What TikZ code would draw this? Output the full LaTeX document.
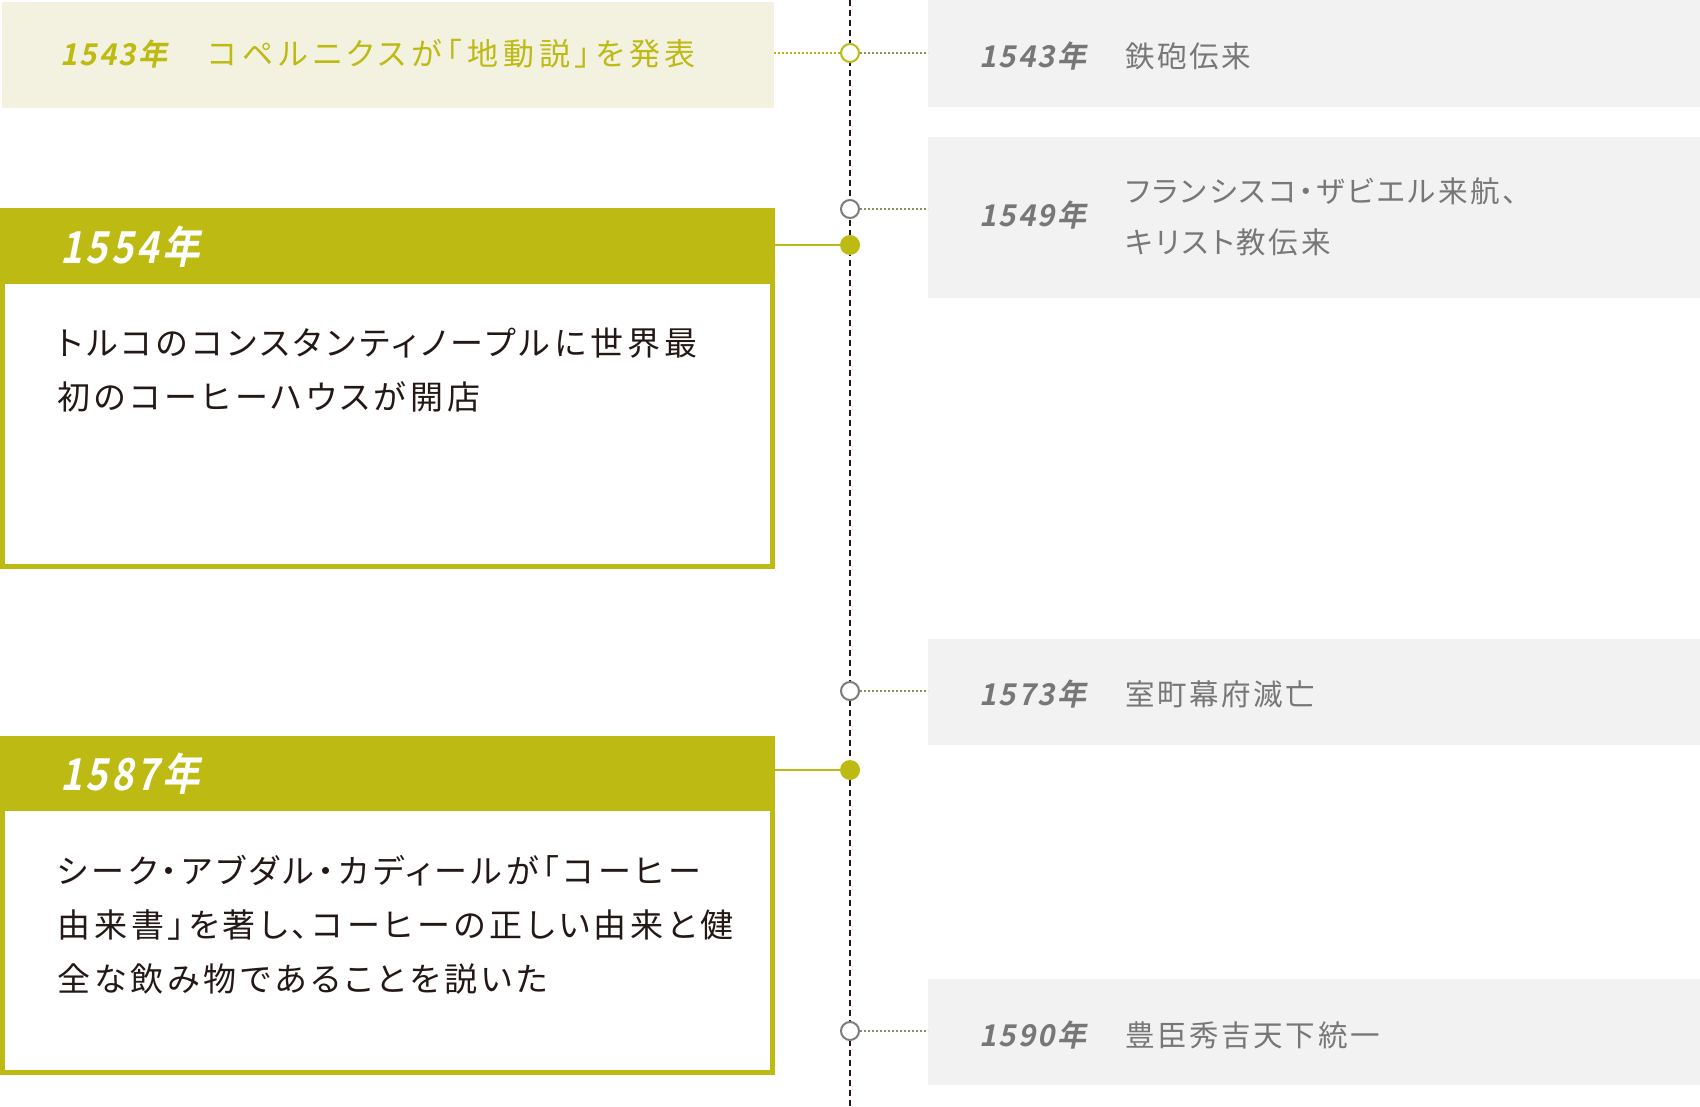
\documentclass[tikz,border=0pt]{standalone}
\usepackage{fontspec}
\setmainfont{Noto Sans CJK JP}
\newfontfamily\jpfont[RawFeature=+palt,LetterSpace=12]{Noto Sans CJK JP}
\newfontfamily\jpfontt[RawFeature=+palt,LetterSpace=16]{Noto Sans CJK JP}
\newfontfamily\jpfontb[RawFeature=+palt,LetterSpace=9]{Noto Sans CJK JP}
\newfontfamily\yrfont[FakeSlant=0.2,FakeStretch=0.97,LetterSpace=8]{Noto Sans CJK JP Bold}
\newfontfamily\yrfontb[FakeSlant=0.2,FakeStretch=0.85,LetterSpace=8]{Noto Sans CJK JP Bold}
\definecolor{olive}{HTML}{BDBA13}
\definecolor{beige}{HTML}{F3F2E1}
\definecolor{lgray}{HTML}{F2F2F2}
\definecolor{tgray}{HTML}{777777}
\definecolor{ink}{HTML}{231815}
\definecolor{cgray}{HTML}{7C7C7C}
\tikzset{
  panel/.style={anchor=north west,inner sep=0pt,outer sep=0pt},
  smallyear/.style={anchor=west,inner sep=0pt,font=\yrfont\fontsize{30pt}{34pt}\selectfont},
  bigyear/.style={anchor=west,inner sep=0pt,text=white,font=\yrfontb\fontsize{44pt}{48pt}\selectfont},
  bodytext/.style={anchor=west,inner sep=0pt,align=left,text=ink,font=\jpfont\fontsize{33pt}{54pt}\selectfont},
  righttext/.style={anchor=west,inner sep=0pt,align=left,text=tgray,font=\jpfontb\fontsize{29.5pt}{51pt}\selectfont},
  opendot/.style={circle,draw=cgray,fill=white,line width=2pt,minimum size=18pt,inner sep=0pt},
  fulldot/.style={circle,fill=olive,minimum size=20pt,inner sep=0pt},
  dotline/.style={line width=1.2pt,dash pattern=on 2pt off 2pt},
}
\begin{document}
\begin{tikzpicture}[x=1pt,y=-1pt]
\useasboundingbox (0,0) rectangle (1700,1107);
% timeline
\coordinate (ttop) at (850,0);
\coordinate (tbot) at (850,1107);
\draw[ink,line width=2pt,dash pattern=on 6pt off 4pt] (ttop) -- (tbot);
% right boxes
\node[panel,fill=lgray,minimum width=772pt,minimum height=107pt] (r1) at (928,0) {};
\node[panel,fill=lgray,minimum width=772pt,minimum height=161pt] (r2) at (928,137) {};
\node[panel,fill=lgray,minimum width=772pt,minimum height=106pt] (r3) at (928,639) {};
\node[panel,fill=lgray,minimum width=772pt,minimum height=106pt] (r4) at (928,979) {};
% top-left box
\node[panel,fill=beige,minimum width=772pt,minimum height=106pt] (l1) at (2,2) {};
% 1554 box
\node[panel,draw=olive,line width=5pt,minimum width=770pt,minimum height=356pt,fill=white] (b1) at (2.5,210.5) {};
\node[panel,fill=olive,minimum width=775pt,minimum height=76pt] (h1) at (0,208) {};
% 1587 box
\node[panel,draw=olive,line width=5pt,minimum width=770pt,minimum height=334pt,fill=white] (b2) at (2.5,738.5) {};
\node[panel,fill=olive,minimum width=775pt,minimum height=75pt] (h2) at (0,736) {};
% dots
\node[opendot,draw=olive] (c1) at (850,53) {};
\node[opendot] (c2) at (850,209) {};
\node[fulldot] (f1) at (850,245) {};
\node[opendot] (c3) at (850,691) {};
\node[fulldot] (f2) at (850,770) {};
\node[opendot] (c4) at (850,1031) {};
% connectors
\draw[olive,dotline] (l1.east |- c1) -- (c1.west);
\draw[cgray!70!olive,dotline] (c1.east) -- (r1.west |- c1);
\draw[cgray!70!olive,dotline] (c2.east) -- (r2.west |- c2);
\draw[cgray!70!olive,dotline] (c3.east) -- (r3.west |- c3);
\draw[cgray!70!olive,dotline] (c4.east) -- (r4.west |- c4);
\draw[olive,line width=2pt] (h1.east |- f1) -- (f1.west);
\draw[olive,line width=2pt] (h2.east |- f2) -- (f2.west);
% texts
\node[smallyear,text=olive] (y1) at (60,54) {1543年};
\node[anchor=west,inner sep=0pt,text=olive,font=\jpfontt\fontsize{31pt}{34pt}\selectfont] (t1) at (208,54) {コペルニクスが「地動説」を発表};
\node[bigyear] (y2) at (60,247) {1554年};
\node[bodytext] (t2) at (57,370) {トルコのコンスタンティノープルに世界最\\初のコーヒーハウスが開店};
\node[bigyear] (y3) at (60,774) {1587年};
\node[bodytext] (t3) at (57,925) {シーク・アブダル・カディールが「コーヒー\\由来書」を著し、コーヒーの正しい由来と健\\全な飲み物であることを説いた};
\node[smallyear,text=tgray] (y4) at (979,56) {1543年};
\node[righttext] (t4) at (1125,56) {鉄砲伝来};
\node[smallyear,text=tgray] (y5) at (979,215) {1549年};
\node[righttext] (t5) at (1125,217) {フランシスコ・ザビエル来航、\\キリスト教伝来};
\node[smallyear,text=tgray] (y6) at (979,694) {1573年};
\node[righttext] (t6) at (1125,694) {室町幕府滅亡};
\node[smallyear,text=tgray] (y7) at (979,1035) {1590年};
\node[righttext] (t7) at (1125,1035) {豊臣秀吉天下統一};
\end{tikzpicture}
\end{document}
